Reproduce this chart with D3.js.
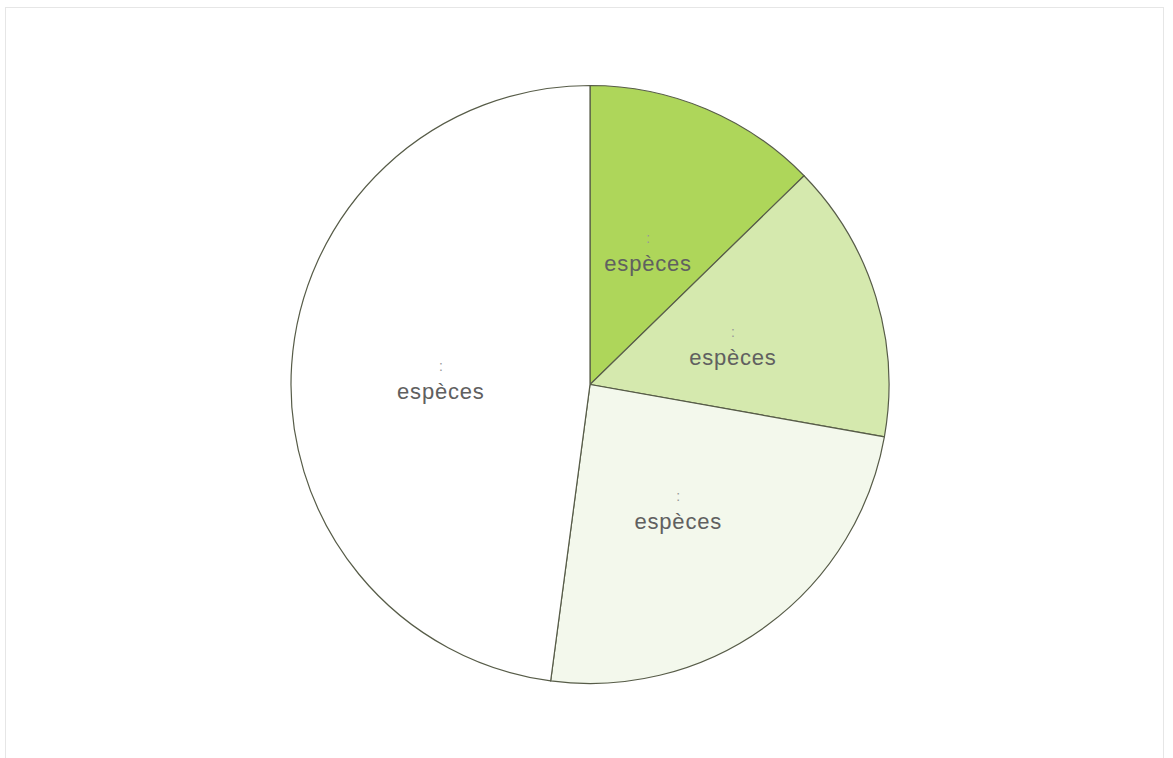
<!DOCTYPE html>
<html>
<head>
<meta charset="utf-8">
<script src="https://cdn.jsdelivr.net/npm/d3@7"></script>
<style>
  body { margin: 0; background: #fff; }
  svg { display: block; font-family: 'Liberation Sans', Arial, sans-serif; }
</style>
</head>
<body>
<svg width="1173" height="758"></svg>
<script>
const categories = ['espèces', 'espèces', 'espèces', 'espèces']
const values = [12.7, 15.1, 24.3, 47.9]
const colors = ['#aed65a', '#d5e9ae', '#f3f8ec', '#ffffff']

const svg = d3.select('svg')
const cx = 590, cy = 384.5, radius = 299

svg.append('rect')
  .attr('x', 5.5).attr('y', 7.5)
  .attr('width', 1158).attr('height', 760)
  .attr('fill', 'none')
  .attr('stroke', '#e6e6e6')

const pie = d3.pie().sort(null).value(d => d)
const arc = d3.arc().innerRadius(0).outerRadius(radius)
const labelArc = d3.arc().innerRadius(radius * 0.5).outerRadius(radius * 0.5)

const g = svg.append('g').attr('transform', `translate(${cx},${cy})`)
const slices = g.selectAll('g').data(pie(values)).enter().append('g')

slices.append('path')
  .attr('d', arc)
  .attr('fill', (d, i) => colors[i])
  .attr('stroke', '#575c48')
  .attr('stroke-width', 1.2)

const lab = slices.append('g')
  .attr('transform', d => `translate(${labelArc.centroid(d)})`)

lab.append('text')
  .attr('y', -4)
  .attr('text-anchor', 'middle')
  .attr('font-size', 14)
  .attr('fill', '#999')
  .text(':')

lab.append('text')
  .attr('y', 24)
  .attr('text-anchor', 'middle')
  .attr('font-size', 22)
  .attr('letter-spacing', 0.8)
  .attr('fill', '#606060')
  .text((d, i) => categories[i])
</script>
</body>
</html>
